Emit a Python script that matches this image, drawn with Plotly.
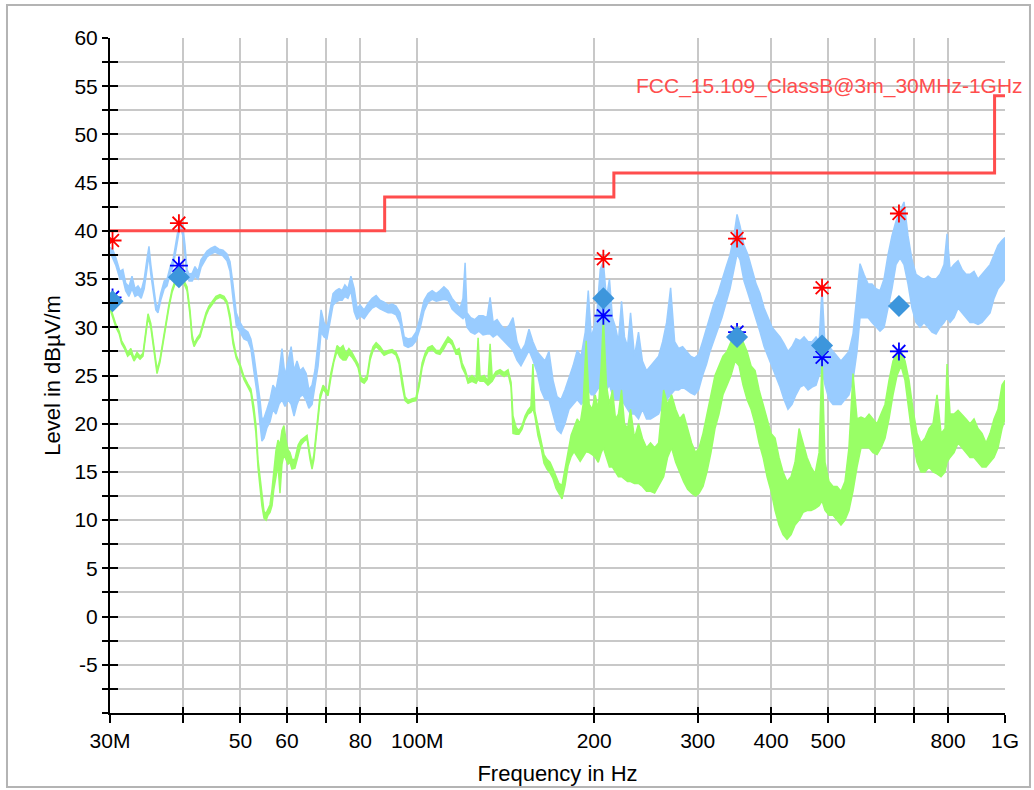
import math
import plotly.graph_objects as go

# ---------------- data (frequency in MHz, level in dBuV/m) ----------------
# Peak scan (light blue): envelope of the noisy trace, upper / lower values
pk_f = [30.0, 30.35, 30.7, 31.19, 31.55, 31.9, 32.3, 32.7, 33.09, 33.48, 33.9, 34.3, 34.7, 34.95, 35.2,
        35.5, 35.9, 36.2, 36.6, 37.1, 37.51, 37.95, 38.4, 38.85, 39.3, 39.6, 39.94, 40.25, 40.57, 40.9,
        41.4, 41.85, 42.35, 42.85, 43.35, 43.87, 44.57, 45.26, 45.98, 46.71, 47.44, 48.01, 48.57, 49.2,
        49.93, 50.7, 51.5, 52.1, 52.7, 53.36, 53.99, 54.4, 54.85, 55.49, 56.15, 56.81, 57.48, 58.15,
        58.85, 59.55, 60.26, 61.0, 61.7, 62.42, 63.16, 63.91, 64.7, 65.4, 66.21, 66.99, 67.8, 68.6,
        69.4, 70.2, 71.04, 71.88, 72.7, 73.6, 74.5, 75.3, 76.2, 77.1, 78.1, 78.98, 79.91, 81.2, 82.5,
        83.8, 85.1, 86.42, 87.8, 89.2, 90.6, 92.0, 93.47, 95.0, 96.45, 98.0, 99.5, 101.1, 102.7, 104.3,
        106.0, 107.7, 109.3, 111.0, 112.8, 114.6, 116.4, 118.3, 119.6, 120.6, 121.5, 123.3, 125.3,
        127.3, 129.4, 131.4, 133.0, 134.6, 136.7, 138.8, 141.0, 143.3, 145.5, 147.8, 150.1, 152.5,
        154.9, 157.3, 159.8, 162.3, 164.9, 167.5, 170.2, 172.9, 175.6, 178.3, 181.2, 184.1, 187.1,
        190.0, 193.1, 195.4, 197.7, 200.0, 202.4, 204.8, 207.3, 209.8, 212.3, 214.8, 217.4, 219.9,
        222.6, 225.2, 227.9, 230.6, 234.2, 237.9, 241.6, 245.5, 249.4, 253.4, 257.4, 261.5, 265.6,
        269.8, 274.1, 278.4, 282.8, 287.3, 291.8, 296.4, 301.1, 305.8, 310.6, 314.8, 319.7, 324.7,
        329.9, 335.1, 340.5, 345.8, 350.0, 354.1, 359.7, 365.4, 371.2, 377.1, 383.0, 389.1, 395.2,
        401.5, 407.8, 414.2, 420.7, 427.3, 434.1, 440.9, 448.0, 455.1, 462.3, 469.6, 477.0, 482.7,
        488.3, 494.1, 501.9, 509.8, 517.8, 525.9, 534.2, 542.6, 551.3, 560.0, 566.6, 575.5, 584.6,
        593.9, 603.3, 612.8, 622.5, 632.3, 642.3, 652.4, 662.7, 673.2, 683.8, 694.6, 705.6, 716.8,
        728.1, 739.6, 751.3, 763.2, 775.3, 787.5, 796.9, 806.3, 819.0, 832.0, 845.1, 858.4, 872.0,
        885.7, 899.7, 913.9, 928.4, 943.1, 957.9, 973.0, 988.4, 1000.0]
pk_hi = [38.3, 38.0, 37.2, 35.8, 36.0, 34.6, 34.2, 35.3, 34.0, 34.3, 33.8, 35.0, 37.2, 38.4, 36.5,
         34.8, 32.5, 32.0, 33.5, 34.8, 35.0, 36.2, 37.0, 38.8, 40.6, 41.0, 40.3, 38.5, 36.0, 35.5,
         35.6, 36.3, 35.8, 37.0, 37.4, 37.9, 38.2, 38.4, 38.1, 38.0, 37.6, 36.8, 34.5, 31.5,
         30.5, 29.8, 29.5, 28.8, 27.2, 25.0, 22.5, 20.5, 20.6, 21.5, 22.5, 24.0, 23.5, 25.2,
         27.8, 25.0, 26.5, 28.0, 25.5, 26.5, 25.5, 25.8, 25.2, 23.5, 24.0, 25.6, 28.5, 31.8,
         30.5, 30.0, 31.8, 33.5, 33.8, 34.0, 33.8, 34.4, 34.0, 35.3, 34.0, 32.0, 32.3, 31.8, 32.5,
         33.0, 33.3, 32.8, 32.6, 32.3, 32.4, 32.2, 31.5, 29.0, 28.8, 28.9, 29.5, 31.0, 32.8, 33.5,
         33.8, 33.5, 33.8, 34.2, 33.8, 33.0, 32.5, 32.0, 33.0, 36.7, 31.5, 31.0, 30.8,
         31.2, 31.2, 31.0, 33.1, 30.5, 30.8, 30.2, 29.8, 30.2, 31.0, 28.5, 27.5, 28.2,
         29.8, 28.5, 27.5, 27.0, 26.5, 27.5, 24.5, 22.8, 22.5, 23.5, 24.8, 26.0, 27.6,
         27.0, 29.5, 33.8, 29.0, 30.0, 32.0, 36.0, 36.8, 33.0, 35.0, 31.0, 30.0, 28.5,
         32.7, 29.0, 28.0, 31.5, 27.0, 29.5, 26.5, 25.5, 26.0, 26.5, 27.0, 28.5, 30.5,
         34.1, 28.5, 27.8, 28.0, 27.5, 27.0, 26.8, 27.2, 28.5, 30.0, 31.2, 32.5, 33.5,
         35.0, 36.2, 37.5, 39.5, 41.7, 40.5, 38.5, 37.5, 36.0, 34.5, 33.5, 32.0, 31.0,
         30.0, 29.5, 29.0, 28.3, 27.5, 28.0, 28.8, 28.6, 29.0, 28.5, 28.5, 29.0, 28.5,
         34.0, 28.0, 28.0, 27.5, 27.0, 26.5, 27.0, 27.5, 29.3, 33.5, 36.6, 35.5, 34.5,
         34.5, 34.0, 33.8, 35.0, 37.5, 39.5, 41.0, 42.0, 43.0, 39.5, 37.0, 35.5, 35.2,
         35.0, 35.3, 35.0, 35.0, 35.5, 36.5, 39.7, 36.0, 36.5, 36.9, 36.0, 35.5, 35.5,
         35.8, 35.0, 35.5, 36.0, 36.5, 37.5, 38.5, 39.0, 39.3]
pk_lo = [37.8, 37.0, 36.4, 35.0, 35.0, 33.8, 33.2, 34.0, 33.2, 33.4, 33.0, 34.0, 36.2, 37.5, 35.5,
         33.8, 31.8, 31.5, 32.8, 34.0, 34.3, 35.5, 36.3, 38.0, 39.8, 40.3, 39.4, 37.5, 35.2, 34.8,
         34.8, 35.3, 35.0, 36.2, 36.8, 37.3, 37.6, 37.8, 37.6, 37.4, 36.9, 35.8, 33.0, 30.2,
         29.5, 28.8, 28.6, 27.8, 25.5, 23.2, 20.0, 18.2, 18.5, 19.6, 20.2, 21.5, 21.0, 22.0,
         22.5, 21.8, 22.5, 22.0, 20.8, 22.0, 22.8, 23.0, 22.4, 21.6, 22.0, 24.0, 26.0, 29.5,
         29.0, 28.8, 30.6, 32.3, 32.6, 32.8, 32.8, 33.2, 33.0, 33.8, 31.6, 30.8, 31.2, 30.9, 31.5,
         32.0, 32.2, 31.9, 31.7, 31.5, 31.5, 31.3, 30.4, 28.1, 27.9, 28.1, 28.6, 29.9, 31.7, 32.6,
         32.9, 32.7, 32.8, 32.9, 32.8, 31.9, 31.5, 31.1, 30.9, 31.2, 30.0, 29.5, 29.3,
         29.6, 29.2, 29.3, 29.3, 29.0, 29.3, 28.9, 28.5, 28.0, 27.6, 26.6, 26.0, 26.8,
         27.6, 26.6, 25.4, 23.5, 22.5, 22.5, 21.0, 19.4, 19.0, 20.0, 21.5, 22.0, 22.5,
         22.0, 22.5, 23.5, 23.0, 23.0, 23.5, 24.0, 25.0, 23.5, 24.0, 23.0, 22.5, 22.5,
         22.5, 22.0, 21.5, 21.0, 21.0, 20.5, 21.5, 20.5, 20.5, 20.8, 21.0, 22.0, 22.5,
         23.0, 23.5, 23.5, 23.8, 23.5, 23.2, 23.0, 23.5, 25.0, 26.2, 27.5, 28.6, 29.8,
         31.0, 32.5, 34.0, 36.0, 37.6, 37.0, 34.8, 33.5, 32.2, 30.8, 29.5, 28.0, 27.0,
         25.8, 24.8, 23.8, 22.5, 21.5, 22.0, 23.0, 23.8, 24.0, 23.5, 23.8, 24.0, 25.0,
         25.5, 24.0, 22.5, 22.0, 22.0, 22.0, 22.5, 23.0, 24.5, 27.5, 31.0, 31.0, 31.0,
         30.5, 30.0, 29.6, 30.0, 32.0, 34.0, 36.5, 37.2, 36.5, 34.5, 32.0, 30.5, 30.0,
         30.5, 30.0, 29.5, 29.3, 30.0, 30.5, 31.0, 30.5, 31.0, 32.0, 31.5, 31.0, 30.5,
         30.5, 30.3, 30.5, 31.0, 31.5, 33.0, 34.0, 34.5, 35.0]

# Average scan (light green): envelope of the noisy trace, upper / lower values
av_f = [30.0, 30.35, 30.7, 31.1, 31.4, 31.8, 32.15, 32.55, 32.96, 33.35, 33.75, 34.14, 34.55, 34.82,
        35.2, 35.65, 36.07, 36.49, 36.93, 37.36, 37.8, 38.25, 38.7, 39.16, 39.6, 40.1, 40.57, 41.04,
        41.37, 41.7, 42.2, 42.68, 43.19, 43.7, 44.2, 44.74, 45.44, 46.16, 46.9, 47.44, 48.01, 48.57,
        49.2, 49.93, 50.7, 51.5, 52.1, 52.7, 53.15, 53.57, 53.99, 54.4, 54.85, 55.3, 55.7, 56.15,
        56.6, 57.0, 57.48, 57.94, 58.39, 58.85, 59.3, 59.8, 60.26, 60.73, 61.2, 61.9, 62.7, 63.4,
        64.2, 64.92, 65.69, 66.21, 66.7, 67.2, 67.8, 68.32, 69.13, 69.93, 70.49, 71.3, 72.1, 73.02,
        73.88, 74.75, 75.6, 76.5, 77.4, 78.4, 79.3, 80.2, 81.2, 82.14, 83.11, 84.09, 85.1, 86.42,
        87.8, 89.2, 90.6, 92.0, 93.1, 94.2, 95.32, 96.45, 98.0, 99.5, 100.7, 101.9, 103.1, 104.3,
        106.0, 107.7, 109.3, 111.0, 112.8, 114.6, 116.4, 117.8, 119.2, 120.6, 122.0, 123.9, 125.9,
        126.9, 127.9, 129.9, 131.9, 133.0, 134.1, 136.1, 138.3, 140.5, 142.7, 144.4, 145.5, 147.3,
        148.9, 150.7, 152.5, 154.3, 156.1, 157.3, 158.5, 160.4, 162.3, 164.3, 166.2, 168.2, 170.2,
        172.2, 174.2, 176.3, 178.4, 180.5, 182.7, 184.8, 187.1, 189.3, 191.5, 193.8, 196.1, 198.4,
        200.8, 203.2, 205.6, 207.3, 209.8, 212.3, 214.8, 217.4, 219.9, 222.6, 225.2, 227.9, 230.6,
        234.2, 237.9, 241.6, 245.5, 249.4, 253.4, 257.4, 262.5, 266.6, 270.8, 275.2, 279.4, 283.9,
        288.4, 292.9, 297.6, 301.6, 306.3, 311.1, 316.0, 321.0, 326.1, 331.2, 336.5, 341.8, 347.3,
        352.7, 358.3, 364.0, 369.8, 375.6, 381.6, 387.6, 393.7, 399.9, 406.2, 412.6, 419.1, 425.7,
        432.5, 439.3, 446.3, 453.3, 460.5, 467.8, 475.1, 482.7, 488.3, 494.1, 501.9, 509.8, 517.8,
        525.9, 534.2, 542.6, 551.3, 560.0, 568.8, 577.9, 587.0, 596.2, 605.6, 615.2, 624.9, 634.8,
        644.8, 655.0, 665.4, 675.9, 686.6, 697.4, 708.4, 719.6, 731.0, 742.6, 754.3, 766.2, 778.3,
        790.6, 796.9, 806.3, 819.0, 832.0, 845.1, 858.4, 872.0, 885.7, 899.7, 913.9, 928.4, 943.1,
        957.9, 973.0, 988.4, 1000.0]
av_hi = [32.2, 31.3, 30.3, 29.6, 28.6, 28.0, 27.3, 27.8, 26.8, 27.4, 27.0, 27.3, 29.8, 31.4,
         30.4, 27.8, 25.6, 26.7, 28.7, 30.7, 32.4, 33.9, 34.8, 35.2, 35.3, 34.8, 34.2, 31.8,
         29.3, 28.3, 28.9, 29.3, 30.5, 31.5, 32.2, 32.7, 33.2, 33.4, 33.2, 32.7, 31.3, 28.8,
         27.1, 26.2, 24.9, 24.1, 23.6, 21.8, 19.8, 16.3, 14.3, 12.3, 10.9, 10.7, 11.1, 11.6,
         13.2, 14.8, 17.2, 18.3, 17.8, 19.3, 19.8, 18.3, 17.3, 17.0, 16.3, 16.3, 17.8, 18.3,
         18.6, 18.8, 16.8, 15.8, 16.8, 18.8, 21.3, 23.0, 24.0, 23.6, 23.3, 25.3, 26.8, 28.1,
         27.8, 28.1, 27.3, 27.8, 27.4, 26.8, 26.2, 24.8, 24.6, 25.0, 27.0, 28.0, 28.4, 28.0,
         27.4, 27.6, 27.7, 27.4, 26.7, 24.8, 22.8, 22.4, 22.6, 22.7, 24.3, 26.3, 27.3, 27.9,
         28.1, 27.6, 27.6, 28.3, 29.0, 28.6, 27.6, 27.8, 26.3, 25.6, 24.6, 25.0, 24.6,
         28.9, 24.8, 25.0, 24.4, 28.3, 24.8, 25.4, 25.6, 25.3, 25.6, 24.3, 20.8, 19.6,
         19.3, 19.8, 20.8, 21.4, 21.8, 26.2, 21.3, 19.8, 18.3, 16.8, 16.3, 16.0, 15.3,
         14.6, 13.8, 13.6, 15.3, 17.3, 18.8, 19.6, 20.5, 20.0, 22.0, 28.6, 22.0, 21.5,
         23.0, 21.5, 26.0, 31.0, 24.0, 22.0, 23.5, 20.5, 21.0, 23.5, 20.0, 19.5, 21.5,
         18.5, 20.0, 18.5, 17.5, 18.0, 17.5, 18.0, 23.5, 22.0, 23.0, 21.5, 20.5, 21.0,
         19.5, 18.0, 17.0, 17.5, 19.0, 21.0, 23.0, 25.0, 26.0, 27.0, 27.5, 28.5, 29.3,
         29.5, 28.5, 27.5, 26.0, 25.5, 23.5, 22.0, 20.5, 19.0, 18.5, 16.5, 15.0, 14.0,
         14.5, 16.0, 19.5, 18.0, 16.5, 15.5, 14.8, 17.0, 27.0, 16.0, 14.0, 13.5, 13.5,
         13.0, 14.0, 17.5, 25.2, 20.5, 20.7, 20.5, 21.0, 20.5, 20.0, 21.0, 22.0, 24.5,
         26.5, 27.3, 27.5, 26.5, 24.5, 21.5, 19.0, 18.0, 18.5, 19.5, 20.0, 23.0, 19.0,
         19.5, 26.2, 21.0, 21.0, 21.4, 21.0, 20.5, 20.0, 20.5, 19.5, 19.0, 18.0, 19.0,
         20.5, 21.5, 24.0, 24.5]
av_lo = [31.9, 31.0, 30.0, 29.3, 28.3, 27.7, 27.0, 27.3, 26.5, 27.0, 26.7, 27.0, 29.4, 31.0,
         30.0, 27.4, 25.2, 26.4, 28.4, 30.4, 32.1, 33.6, 34.5, 34.9, 35.0, 34.5, 33.8, 31.3,
         28.8, 28.0, 28.6, 29.0, 30.2, 31.2, 31.9, 32.4, 32.9, 33.1, 32.9, 32.4, 30.8, 28.3,
         26.8, 25.9, 24.6, 23.8, 23.2, 21.0, 19.0, 15.5, 13.5, 11.5, 10.2, 10.0, 10.5, 10.8,
         11.5, 13.2, 14.5, 15.8, 12.8, 15.8, 16.8, 16.3, 15.8, 16.0, 15.3, 15.4, 16.8, 17.8,
         18.2, 18.4, 16.3, 15.3, 16.3, 18.3, 20.5, 22.5, 23.6, 23.2, 22.9, 24.8, 26.4, 27.5,
         26.9, 26.6, 26.6, 27.2, 26.9, 26.4, 25.8, 24.4, 24.2, 24.6, 26.6, 27.6, 28.0, 27.6,
         27.1, 27.3, 27.4, 27.1, 26.2, 24.0, 22.4, 22.1, 22.3, 22.4, 23.8, 25.8, 26.9, 27.5,
         27.7, 27.3, 27.2, 27.8, 28.6, 28.2, 27.2, 27.2, 25.8, 25.2, 24.2, 24.4, 24.2,
         24.6, 24.4, 24.4, 24.0, 24.2, 24.4, 25.1, 25.2, 24.9, 25.2, 23.8, 19.0, 18.9,
         18.9, 19.4, 20.4, 21.0, 21.2, 21.6, 20.8, 18.8, 17.6, 15.9, 15.3, 14.9, 14.3,
         13.3, 12.7, 12.2, 13.6, 15.6, 16.6, 17.1, 16.6, 16.1, 16.6, 17.1, 17.0, 16.8,
         16.5, 16.0, 17.0, 17.5, 16.5, 15.5, 15.5, 15.0, 14.5, 14.5, 14.2, 14.0, 14.0,
         13.8, 13.8, 13.5, 13.0, 13.0, 12.8, 13.5, 14.5, 16.5, 17.5, 16.0, 15.0, 14.0,
         13.2, 12.8, 12.5, 12.8, 13.5, 15.0, 17.0, 19.5, 21.0, 23.0, 24.0, 25.0, 26.5,
         26.0, 24.0, 22.5, 21.5, 20.0, 18.0, 16.5, 14.5, 13.0, 11.0, 9.5, 8.5, 8.0,
         8.5, 9.5, 10.0, 10.8, 11.0, 11.0, 11.2, 11.5, 12.0, 11.0, 10.5, 10.5, 10.0,
         9.5, 10.0, 11.0, 13.0, 15.5, 17.5, 17.5, 17.5, 17.0, 16.8, 17.5, 18.5, 20.5,
         23.0, 25.0, 26.0, 24.5, 21.5, 18.0, 16.0, 15.0, 15.0, 15.5, 15.0, 14.8, 14.5,
         15.0, 16.0, 16.5, 17.0, 18.0, 17.5, 17.0, 16.5, 16.5, 16.0, 15.5, 15.5, 16.0,
         16.5, 17.5, 19.5, 20.5]

# Limit line FCC 15.109 Class B @3m (step function)
lim_f = [30.0, 88.0, 216.0, 960.0, 1000.0]
lim_v = [40.0, 43.5, 46.0, 54.0, 54.0]
lim_name = "FCC_15.109_ClassB@3m_30MHz-1GHz"

# Final measurement markers
mk_f = [30.3, 39.3, 207.3, 350.0, 488.3, 660.0]
mk_peak = [39.0, 40.8, 37.1, 39.2, 34.1, 41.8]
mk_qp_star = [33.1, 36.4, 31.2, 29.5, 26.9, 27.5]
mk_qp_diamond = [32.7, 35.2, 33.0, 29.0, 28.1, 32.2]

# Axis ticks
x_tickvals = [30, 40, 50, 60, 70, 80, 100, 200, 300, 400, 500, 600, 700, 800, 1000]
x_ticktext = ["30M", "", "50", "60", "", "80", "100M", "200", "300", "400", "500", "", "", "800", "1G"]
y_tickvals = [i * 2.5 for i in range(-4, 25)]
y_ticktext = [str(int(v)) if (v % 5 == 0 and v > -10) else "" for v in y_tickvals]

# ---------------- styles ----------------
BLUE = "rgb(153,204,255)"
GREEN = "rgb(153,255,102)"
LIMIT = "rgb(255,77,77)"
FONT = "Liberation Sans, Arial, sans-serif"
FS_TICK = 21
FS_TITLE = 22
FS_ANN = 21
xr = [math.log10(30), math.log10(1000)]
yr = [-10, 60]

fig = go.Figure()

# Peak trace band
fig.add_trace(go.Scatter(x=pk_f, y=pk_lo, mode="lines", line=dict(color=BLUE, width=1.5),
                         hoverinfo="skip", showlegend=False))
fig.add_trace(go.Scatter(x=pk_f, y=pk_hi, mode="lines", line=dict(color=BLUE, width=1.5),
                         fill="tonexty", fillcolor=BLUE, hoverinfo="skip", showlegend=False))
# Average trace band
fig.add_trace(go.Scatter(x=av_f, y=av_lo, mode="lines", line=dict(color=GREEN, width=1.5),
                         hoverinfo="skip", showlegend=False))
fig.add_trace(go.Scatter(x=av_f, y=av_hi, mode="lines", line=dict(color=GREEN, width=1.5),
                         fill="tonexty", fillcolor=GREEN, hoverinfo="skip", showlegend=False))
# Limit line
fig.add_trace(go.Scatter(x=lim_f, y=lim_v, mode="lines", line=dict(color=LIMIT, width=3, shape="hv"),
                         showlegend=False))
# Markers
fig.add_trace(go.Scatter(x=mk_f, y=mk_peak, mode="markers",
                         marker=dict(symbol="asterisk-open", size=15, color="red",
                                     line=dict(color="red", width=1.8)), showlegend=False))
fig.add_trace(go.Scatter(x=mk_f, y=mk_qp_star, mode="markers",
                         marker=dict(symbol="asterisk-open", size=15, color="blue",
                                     line=dict(color="blue", width=1.8)), showlegend=False))
fig.add_trace(go.Scatter(x=mk_f, y=mk_qp_diamond, mode="markers",
                         marker=dict(symbol="diamond", size=17, color="rgb(61,150,220)",
                                     line=dict(width=0)), showlegend=False))
# invisible trace to activate the overlay axes (inner tick marks)
fig.add_trace(go.Scatter(x=lim_f[:1], y=lim_v[:1], xaxis="x2", yaxis="y2", mode="markers",
                         marker=dict(opacity=0), hoverinfo="skip", showlegend=False))

fig.add_annotation(x=1.0223, xref="paper", y=55, yref="y", text=lim_name, showarrow=False,
                   xanchor="right", yanchor="middle", font=dict(color=LIMIT, size=FS_ANN, family=FONT))

fig.update_layout(
    width=1034, height=790,
    margin=dict(l=110, r=29, t=38, b=77, autoexpand=False),
    paper_bgcolor="white", plot_bgcolor="white",
    font=dict(family=FONT, size=FS_TICK, color="black"),
    showlegend=False,
    xaxis=dict(type="log", range=xr, tickmode="array", tickvals=x_tickvals, ticktext=x_ticktext,
               ticks="outside", ticklen=8, tickwidth=2, tickcolor="black",
               tickfont=dict(size=FS_TICK), automargin=False,
               showline=True, linecolor="black", linewidth=2,
               showgrid=True, gridcolor="rgb(200,200,200)", gridwidth=2, zeroline=False,
               title=dict(text="Frequency in Hz", font=dict(size=FS_TITLE), standoff=14)),
    yaxis=dict(range=yr, tickmode="array", tickvals=y_tickvals, ticktext=y_ticktext,
               ticks="outside", ticklen=6, tickwidth=2, tickcolor="black",
               tickfont=dict(size=FS_TICK), automargin=False,
               showline=True, linecolor="black", linewidth=2,
               showgrid=True, gridcolor="rgb(200,200,200)", gridwidth=2, zeroline=False,
               title=dict(text="Level in dBµV/m", font=dict(size=FS_TITLE), standoff=8)),
    xaxis2=dict(type="log", range=xr, overlaying="x", side="bottom", tickmode="array",
                tickvals=x_tickvals, ticks="inside", ticklen=6, tickwidth=2, tickcolor="black",
                showticklabels=False, showgrid=False, showline=False, zeroline=False, automargin=False),
    yaxis2=dict(range=yr, overlaying="y", side="left", tickmode="array", tickvals=y_tickvals,
                ticks="inside", ticklen=8, tickwidth=2, tickcolor="black",
                showticklabels=False, showgrid=False, showline=False, zeroline=False, automargin=False),
    shapes=[dict(type="rect", xref="paper", yref="paper", x0=-0.1151, x1=1.0279, y0=-0.1096, y1=1.0489,
                 line=dict(color="rgb(180,180,180)", width=2), layer="below")],
)

fig.write_html("out.html")
